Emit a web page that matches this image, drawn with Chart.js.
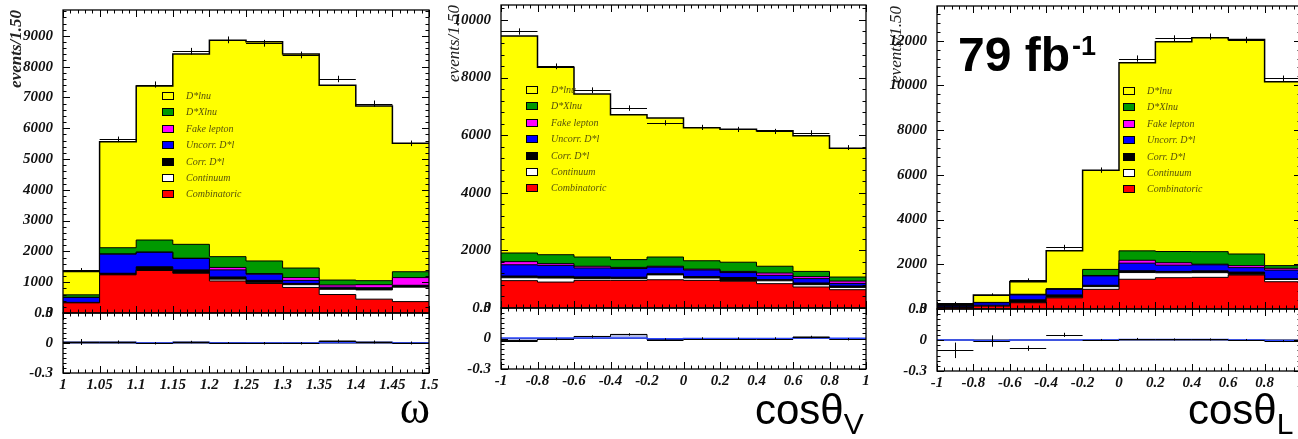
<!DOCTYPE html>
<html>
<head>
<meta charset="utf-8">
<script src="https://cdn.jsdelivr.net/npm/chart.js@4.4.1/dist/chart.umd.min.js"></script>
<style>
  html, body { margin: 0; padding: 0; background: #fff; }
  body { width: 1298px; height: 439px; position: relative; overflow: hidden; }
  canvas { position: absolute; }
  .ax { position: absolute; font-family: 'Liberation Sans', sans-serif; font-size: 42px; line-height: 1; white-space: nowrap; color: #000; }
  .ax .sub { font-size: 30px; position: relative; top: 10px; }
  .om { position: absolute; font-family: 'Liberation Serif', serif; font-size: 46px; line-height: 1; color: #000; }
  .lumi { position: absolute; font-family: 'Liberation Sans', sans-serif; font-weight: bold; font-size: 48px; line-height: 1; white-space: nowrap; color: #000; }
  .lumi .sup { font-size: 27px; position: relative; top: -16px; margin-left: 2px; }
</style>
</head>
<body>
<div id="plots"></div>
<div class="om" style="right:868px; top:385px;">ω</div>
<div class="ax" style="left:755px; top:389px;">cosθ<span class="sub">V</span></div>
<div class="ax" style="left:1188px; top:389px;">cosθ<span class="sub">L</span></div>
<div class="lumi" style="left:958px; top:31px;">79 fb<span class="sup">-1</span></div>
<script>
// legend order, top to bottom; stacking goes the other way
const legendNames = ['D*lnu', 'D*Xlnu', 'Fake lepton', 'Uncorr. D*l', 'Corr. D*l', 'Continuum', 'Combinatoric'];
const legendColors = ['#ffff00', '#009900', '#ff00ff', '#0000ff', '#000000', '#ffffff', '#ff0000'];

// ---- w ----
const wEdges = [1, 1.05, 1.1, 1.15, 1.2, 1.25, 1.3, 1.35, 1.4, 1.45, 1.5];
const wLabels = ['1', '1.05', '1.1', '1.15', '1.2', '1.25', '1.3', '1.35', '1.4', '1.45', '1.5'];
const wYTicks = [0, 1000, 2000, 3000, 4000, 5000, 6000, 7000, 8000, 9000];
const wYLabels = ['0', '1000', '2000', '3000', '4000', '5000', '6000', '7000', '8000', '9000'];
const wDlnu = [760, 3440, 5000, 6180, 7030, 7120, 6950, 6330, 5670, 4170];
const wDXlnu = [80, 200, 390, 450, 350, 410, 310, 160, 130, 190];
const wFake = [5, 10, 10, 10, 80, 20, 90, 70, 100, 250];
const wUncorr = [160, 620, 470, 370, 230, 200, 100, 30, 20, 20];
const wCorr = [10, 40, 110, 100, 70, 80, 40, 40, 50, 40];
const wContinuum = [5, 10, 10, 10, 60, 20, 90, 170, 300, 470];
const wCombinatoric = [330, 1240, 1380, 1290, 1040, 960, 830, 600, 450, 370];
const wData = [1400, 5640, 7420, 8500, 8870, 8760, 8380, 7600, 6800, 5510];
const wDataErr = [60, 90, 100, 110, 110, 110, 110, 105, 100, 90];
const wResid = [0.01, 0.01, -0.003, 0.01, 0, -0.003, -0.003, 0.02, 0.01, 0];
const wResidErr = [0.03, 0.015, 0.012, 0.012, 0.01, 0.012, 0.012, 0.015, 0.015, 0.015];
const wFit = [0.005, 0.005, 0, 0.005, 0, 0, 0, 0.005, 0.005, 0];

// ---- cos theta_V ----
const cvEdges = [-1, -0.8, -0.6, -0.4, -0.2, 0, 0.2, 0.4, 0.6, 0.8, 1];
const cvLabels = ['-1', '-0.8', '-0.6', '-0.4', '-0.2', '0', '0.2', '0.4', '0.6', '0.8', '1'];
const cvYTicks = [0, 2000, 4000, 6000, 8000, 10000];
const cvYLabels = ['0', '2000', '4000', '6000', '8000', '10000'];
const cvDlnu = [7530, 6510, 5660, 5030, 4830, 4620, 4620, 4700, 4710, 4475];
const cvDXlnu = [300, 310, 320, 270, 320, 290, 320, 235, 180, 140];
const cvFake = [110, 60, 60, 40, 30, 30, 40, 80, 70, 80];
const cvUncorr = [390, 380, 310, 300, 230, 230, 170, 150, 150, 90];
const cvCorr = [60, 60, 60, 50, 40, 50, 110, 40, 60, 50];
const cvContinuum = [100, 140, 60, 60, 170, 80, 20, 100, 80, 80];
const cvCombinatoric = [950, 900, 960, 960, 980, 960, 930, 845, 730, 635];
const cvData = [9600, 8390, 7560, 6940, 6430, 6270, 6200, 6130, 6080, 5570];
const cvDataErr = [110, 100, 100, 95, 90, 90, 90, 90, 90, 85];
const cvResid = [-0.02, -0.005, 0.02, 0.04, -0.01, 0, 0, 0, 0.015, -0.007];
const cvResidErr = [0.015, 0.012, 0.012, 0.012, 0.012, 0.012, 0.012, 0.012, 0.012, 0.012];
const cvFit = [0.005, 0.005, 0.005, 0.005, -0.003, 0, 0, 0, 0.005, 0.003];

// ---- cos theta_L ----
const clEdges = [-1, -0.8, -0.6, -0.4, -0.2, 0, 0.2, 0.4, 0.6, 0.8, 1];
const clLabels = ['-1', '-0.8', '-0.6', '-0.4', '-0.2', '0', '0.2', '0.4', '0.6', '0.8', '1'];
const clYTicks = [0, 2000, 4000, 6000, 8000, 10000, 12000];
const clYLabels = ['0', '2000', '4000', '6000', '8000', '10000', '12000'];
const clDlnu = [25, 330, 560, 1690, 4440, 8410, 9380, 9565, 9590, 8220];
const clDXlnu = [10, 10, 20, 20, 270, 420, 500, 560, 520, 120];
const clFake = [5, 5, 10, 10, 20, 130, 110, 30, 90, 80];
const clUncorr = [60, 110, 220, 250, 420, 340, 280, 270, 200, 390];
const clCorr = [30, 30, 110, 100, 60, 80, 60, 80, 100, 30];
const clContinuum = [10, 10, 20, 30, 120, 300, 220, 210, 30, 100];
const clCombinatoric = [60, 130, 280, 500, 880, 1330, 1400, 1415, 1520, 1220];
const clData = [280, 640, 1290, 2760, 6210, 11200, 12100, 12180, 12030, 10310];
const clDataErr = [40, 60, 80, 110, 120, 140, 140, 140, 140, 130];
const clResid = [-0.1, -0.01, -0.08, 0.05, 0, 0.01, 0.005, 0.005, 0, -0.01];
const clResidErr = [0.075, 0.055, 0.025, 0.02, 0.01, 0.01, 0.01, 0.01, 0.01, 0.01];
const clFit = [0, -0.005, 0, 0, 0, 0.005, 0.005, 0.005, 0, -0.005];

const residTicks = [-0.3, 0, 0.3];
const residLabels = ['-0.3', '0', '0.3'];

const panels = [
  { frame: { left: 63, right: 429, top: 10, mid: 313, bottom: 373 }, yMax: 9840, yMinor: 200, xMinorDiv: 5,
    edges: wEdges, xLabels: wLabels, yTicks: wYTicks, yLabels: wYLabels,
    comps: [wDlnu, wDXlnu, wFake, wUncorr, wCorr, wContinuum, wCombinatoric],
    data: wData, dataErr: wDataErr, resid: wResid, residErr: wResidErr, fit: wFit, residHist: true,
    titleX: 17, titleWeight: 'bold', legend: { dx: 99, dy: 86, tx: 123 } },
  { frame: { left: 501, right: 866, top: 5, mid: 308, bottom: 369 }, yMax: 10520, yMinor: 400, xMinorDiv: 5,
    edges: cvEdges, xLabels: cvLabels, yTicks: cvYTicks, yLabels: cvYLabels,
    comps: [cvDlnu, cvDXlnu, cvFake, cvUncorr, cvCorr, cvContinuum, cvCombinatoric],
    data: cvData, dataErr: cvDataErr, resid: cvResid, residErr: cvResidErr, fit: cvFit, residHist: true,
    titleX: 455, titleWeight: 'normal', legend: { dx: 25, dy: 85, tx: 50 } },
  { frame: { left: 937, right: 1301, top: 6, mid: 308.5, bottom: 370 }, yMax: 13550, yMinor: 400, xMinorDiv: 5,
    edges: clEdges, xLabels: clLabels, yTicks: clYTicks, yLabels: clYLabels,
    comps: [clDlnu, clDXlnu, clFake, clUncorr, clCorr, clContinuum, clCombinatoric],
    data: clData, dataErr: clDataErr, resid: clResid, residErr: clResidErr, fit: clFit, residHist: false,
    titleX: 897, titleWeight: 'normal', legend: { dx: 186, dy: 85, tx: 210 } }
];

const tickFont = { family: "'Liberation Serif', serif", size: 15, style: 'italic', weight: 'bold' };
const AXIS_W = 63, M = 30, XAXIS_H = 30;

function addCanvas(left, top, w, h) {
  const c = document.createElement('canvas');
  c.width = w; c.height = h;
  c.style.left = left + 'px'; c.style.top = top + 'px';
  c.style.width = w + 'px'; c.style.height = h + 'px';
  document.getElementById('plots').appendChild(c);
  return c;
}

function subdivide(majors, n) {
  const out = [];
  for (let i = 0; i < majors.length - 1; i++)
    for (let k = 1; k < n; k++) out.push(majors[i] + (majors[i + 1] - majors[i]) * k / n);
  return out;
}
function steps(min, max, step) {
  const out = [];
  for (let k = Math.ceil(min / step - 1e-9); k * step <= max + 1e-9; k++) out.push(k * step);
  return out;
}

// inward ticks on all four sides plus the frame, ROOT style
function frameTicks(xMaj, xMin, yMaj, yMin) {
  return {
    id: 'frameTicks',
    afterDraw(chart) {
      const { ctx, chartArea: a, scales: { x, y } } = chart;
      ctx.save();
      ctx.strokeStyle = '#000';
      ctx.lineWidth = 1;
      ctx.beginPath();
      const xt = (vals, len) => vals.forEach(v => {
        const p = Math.round(x.getPixelForValue(v)) + 0.5;
        ctx.moveTo(p, a.bottom); ctx.lineTo(p, a.bottom - len);
        ctx.moveTo(p, a.top); ctx.lineTo(p, a.top + len);
      });
      const yt = (vals, len) => vals.forEach(v => {
        const p = Math.round(y.getPixelForValue(v)) + 0.5;
        ctx.moveTo(a.left, p); ctx.lineTo(a.left + len, p);
        ctx.moveTo(a.right, p); ctx.lineTo(a.right - len, p);
      });
      xt(xMaj, 7); xt(xMin, 3.5); yt(yMaj, 7); yt(yMin, 3.5);
      ctx.stroke();
      ctx.lineWidth = 1.3;
      ctx.strokeRect(a.left, a.top, a.right - a.left, a.bottom - a.top);
      ctx.restore();
    }
  };
}

// data points: bar across the bin plus vertical error
function crossBars(edges, values, errors) {
  return {
    id: 'crossBars',
    afterDatasetsDraw(chart) {
      const { ctx, scales: { x, y } } = chart;
      ctx.save();
      ctx.strokeStyle = '#000';
      ctx.lineWidth = 1;
      ctx.beginPath();
      values.forEach((v, i) => {
        const x0 = x.getPixelForValue(edges[i]), x1 = x.getPixelForValue(edges[i + 1]);
        const xc = Math.round((x0 + x1) / 2) + 0.5;
        const yc = Math.round(y.getPixelForValue(v)) + 0.5;
        ctx.moveTo(x0, yc); ctx.lineTo(x1, yc);
        ctx.moveTo(xc, y.getPixelForValue(v - errors[i]));
        ctx.lineTo(xc, y.getPixelForValue(v + errors[i]));
      });
      ctx.stroke();
      ctx.restore();
    }
  };
}

function boxLegend(pos) {
  return {
    id: 'boxLegend',
    afterDatasetsDraw(chart) {
      const { ctx, chartArea: a } = chart;
      ctx.save();
      ctx.font = "italic 10px 'Liberation Serif', serif";
      ctx.textBaseline = 'middle';
      legendNames.forEach((name, i) => {
        const yc = Math.round(a.top + pos.dy + i * 16.4);
        const bx = Math.round(a.left + pos.dx);
        ctx.fillStyle = legendColors[i];
        ctx.fillRect(bx, yc - 4, 12, 8);
        ctx.strokeStyle = '#000';
        ctx.lineWidth = 1;
        ctx.strokeRect(bx + 0.5, yc - 3.5, 11, 7);
        ctx.fillStyle = '#58530a';
        ctx.fillText(name, a.left + pos.tx, yc + 0.5);
      });
      ctx.restore();
    }
  };
}

function stepPoints(edges, vals) {
  return edges.map((x, i) => ({ x, y: vals[Math.min(i, vals.length - 1)] }));
}

// cumulative stack, bottom component first so it is painted last (on top)
function stackSets(edges, comps) {
  const bottomUp = comps.map((v, i) => ({ v, color: legendColors[i] })).reverse();
  let run = bottomUp[0].v.map(() => 0);
  return bottomUp.map((c, k) => {
    run = run.map((s, i) => s + c.v[i]);
    return {
      data: stepPoints(edges, run), stepped: true, fill: 'origin',
      backgroundColor: c.color, borderColor: '#000', borderWidth: k === bottomUp.length - 1 ? 1.5 : 1,
      pointRadius: 0
    };
  });
}

function yAxis(p, min, max, ticks, labels, withTitle) {
  const f = p.frame;
  const ax = {
    min, max,
    afterFit: s => { s.width = AXIS_W; },
    afterBuildTicks: s => { s.ticks = ticks.map(v => ({ value: v })); },
    grid: { display: false, drawTicks: false },
    border: { display: false },
    ticks: { padding: 10, color: '#111', font: tickFont, callback: (v, i) => labels[i] }
  };
  if (withTitle) {
    ax.title = {
      display: true, text: 'events/1.50', align: 'end', color: '#222',
      font: { family: "'Liberation Serif', serif", size: 17, style: 'italic', weight: p.titleWeight },
      padding: { top: p.titleX - (f.left - AXIS_W) - 10.2, bottom: 0 }
    };
  }
  return ax;
}

const baseOpts = {
  responsive: false, animation: false, events: [],
  plugins: { legend: { display: false }, tooltip: { enabled: false } }
};

panels.forEach(p => {
  const f = p.frame;
  const fw = f.right - f.left;
  const xMin = p.edges[0], xMax = p.edges[p.edges.length - 1];
  const xMinor = subdivide(p.edges, p.xMinorDiv);

  // upper pad: stacked components and data
  const mainH = Math.round(f.mid - f.top);
  const mc = addCanvas(f.left - AXIS_W, f.top - M, AXIS_W + fw + M, mainH + 2 * M);
  new Chart(mc, {
    type: 'line',
    data: { datasets: stackSets(p.edges, p.comps) },
    options: Object.assign({}, baseOpts, {
      layout: { padding: { left: 0, top: M, right: M, bottom: M } },
      scales: {
        x: { type: 'linear', min: xMin, max: xMax, display: false },
        y: yAxis(p, 0, p.yMax, p.yTicks, p.yLabels, true)
      }
    }),
    plugins: [boxLegend(p.legend), crossBars(p.edges, p.data, p.dataErr),
              frameTicks(p.edges, xMinor, p.yTicks, steps(0, p.yMax, p.yMinor))]
  });

  // lower pad: residuals
  const resH = Math.round(f.bottom - f.mid);
  const rc = addCanvas(f.left - AXIS_W, Math.round(f.mid) - M, AXIS_W + fw + M, M + resH + XAXIS_H + 10);
  const resSets = [
    { data: stepPoints(p.edges, p.fit), stepped: true, borderColor: '#2a45ff', borderWidth: 1.5, pointRadius: 0, fill: false },
    { data: stepPoints(p.edges, p.resid), stepped: true, borderColor: p.residHist ? '#000' : 'rgba(0,0,0,0)', borderWidth: 1,
      backgroundColor: p.residHist ? '#b4bce6' : 'rgba(0,0,0,0)', pointRadius: 0, fill: 'origin' },
    { data: [{ x: xMin, y: 0 }, { x: xMax, y: 0 }], borderColor: '#000', borderWidth: 1, pointRadius: 0, fill: false }
  ];
  new Chart(rc, {
    type: 'line',
    data: { datasets: resSets },
    options: Object.assign({}, baseOpts, {
      layout: { padding: { left: 0, top: M, right: M, bottom: 10 } },
      scales: {
        x: {
          type: 'linear', min: xMin, max: xMax,
          afterFit: s => { s.height = XAXIS_H; },
          afterBuildTicks: s => { s.ticks = p.edges.map(v => ({ value: v })); },
          grid: { display: false, drawTicks: false },
          border: { display: false },
          ticks: { padding: 3, autoSkip: false, maxRotation: 0, color: '#111', font: tickFont,
                   callback: (v, i) => p.xLabels[i] }
        },
        y: yAxis(p, -0.3, 0.3, residTicks, residLabels, false)
      }
    }),
    plugins: [crossBars(p.edges, p.resid, p.residErr),
              frameTicks(p.edges, xMinor, residTicks, steps(-0.3, 0.3, 0.05))]
  });
});
</script>
</body>
</html>
